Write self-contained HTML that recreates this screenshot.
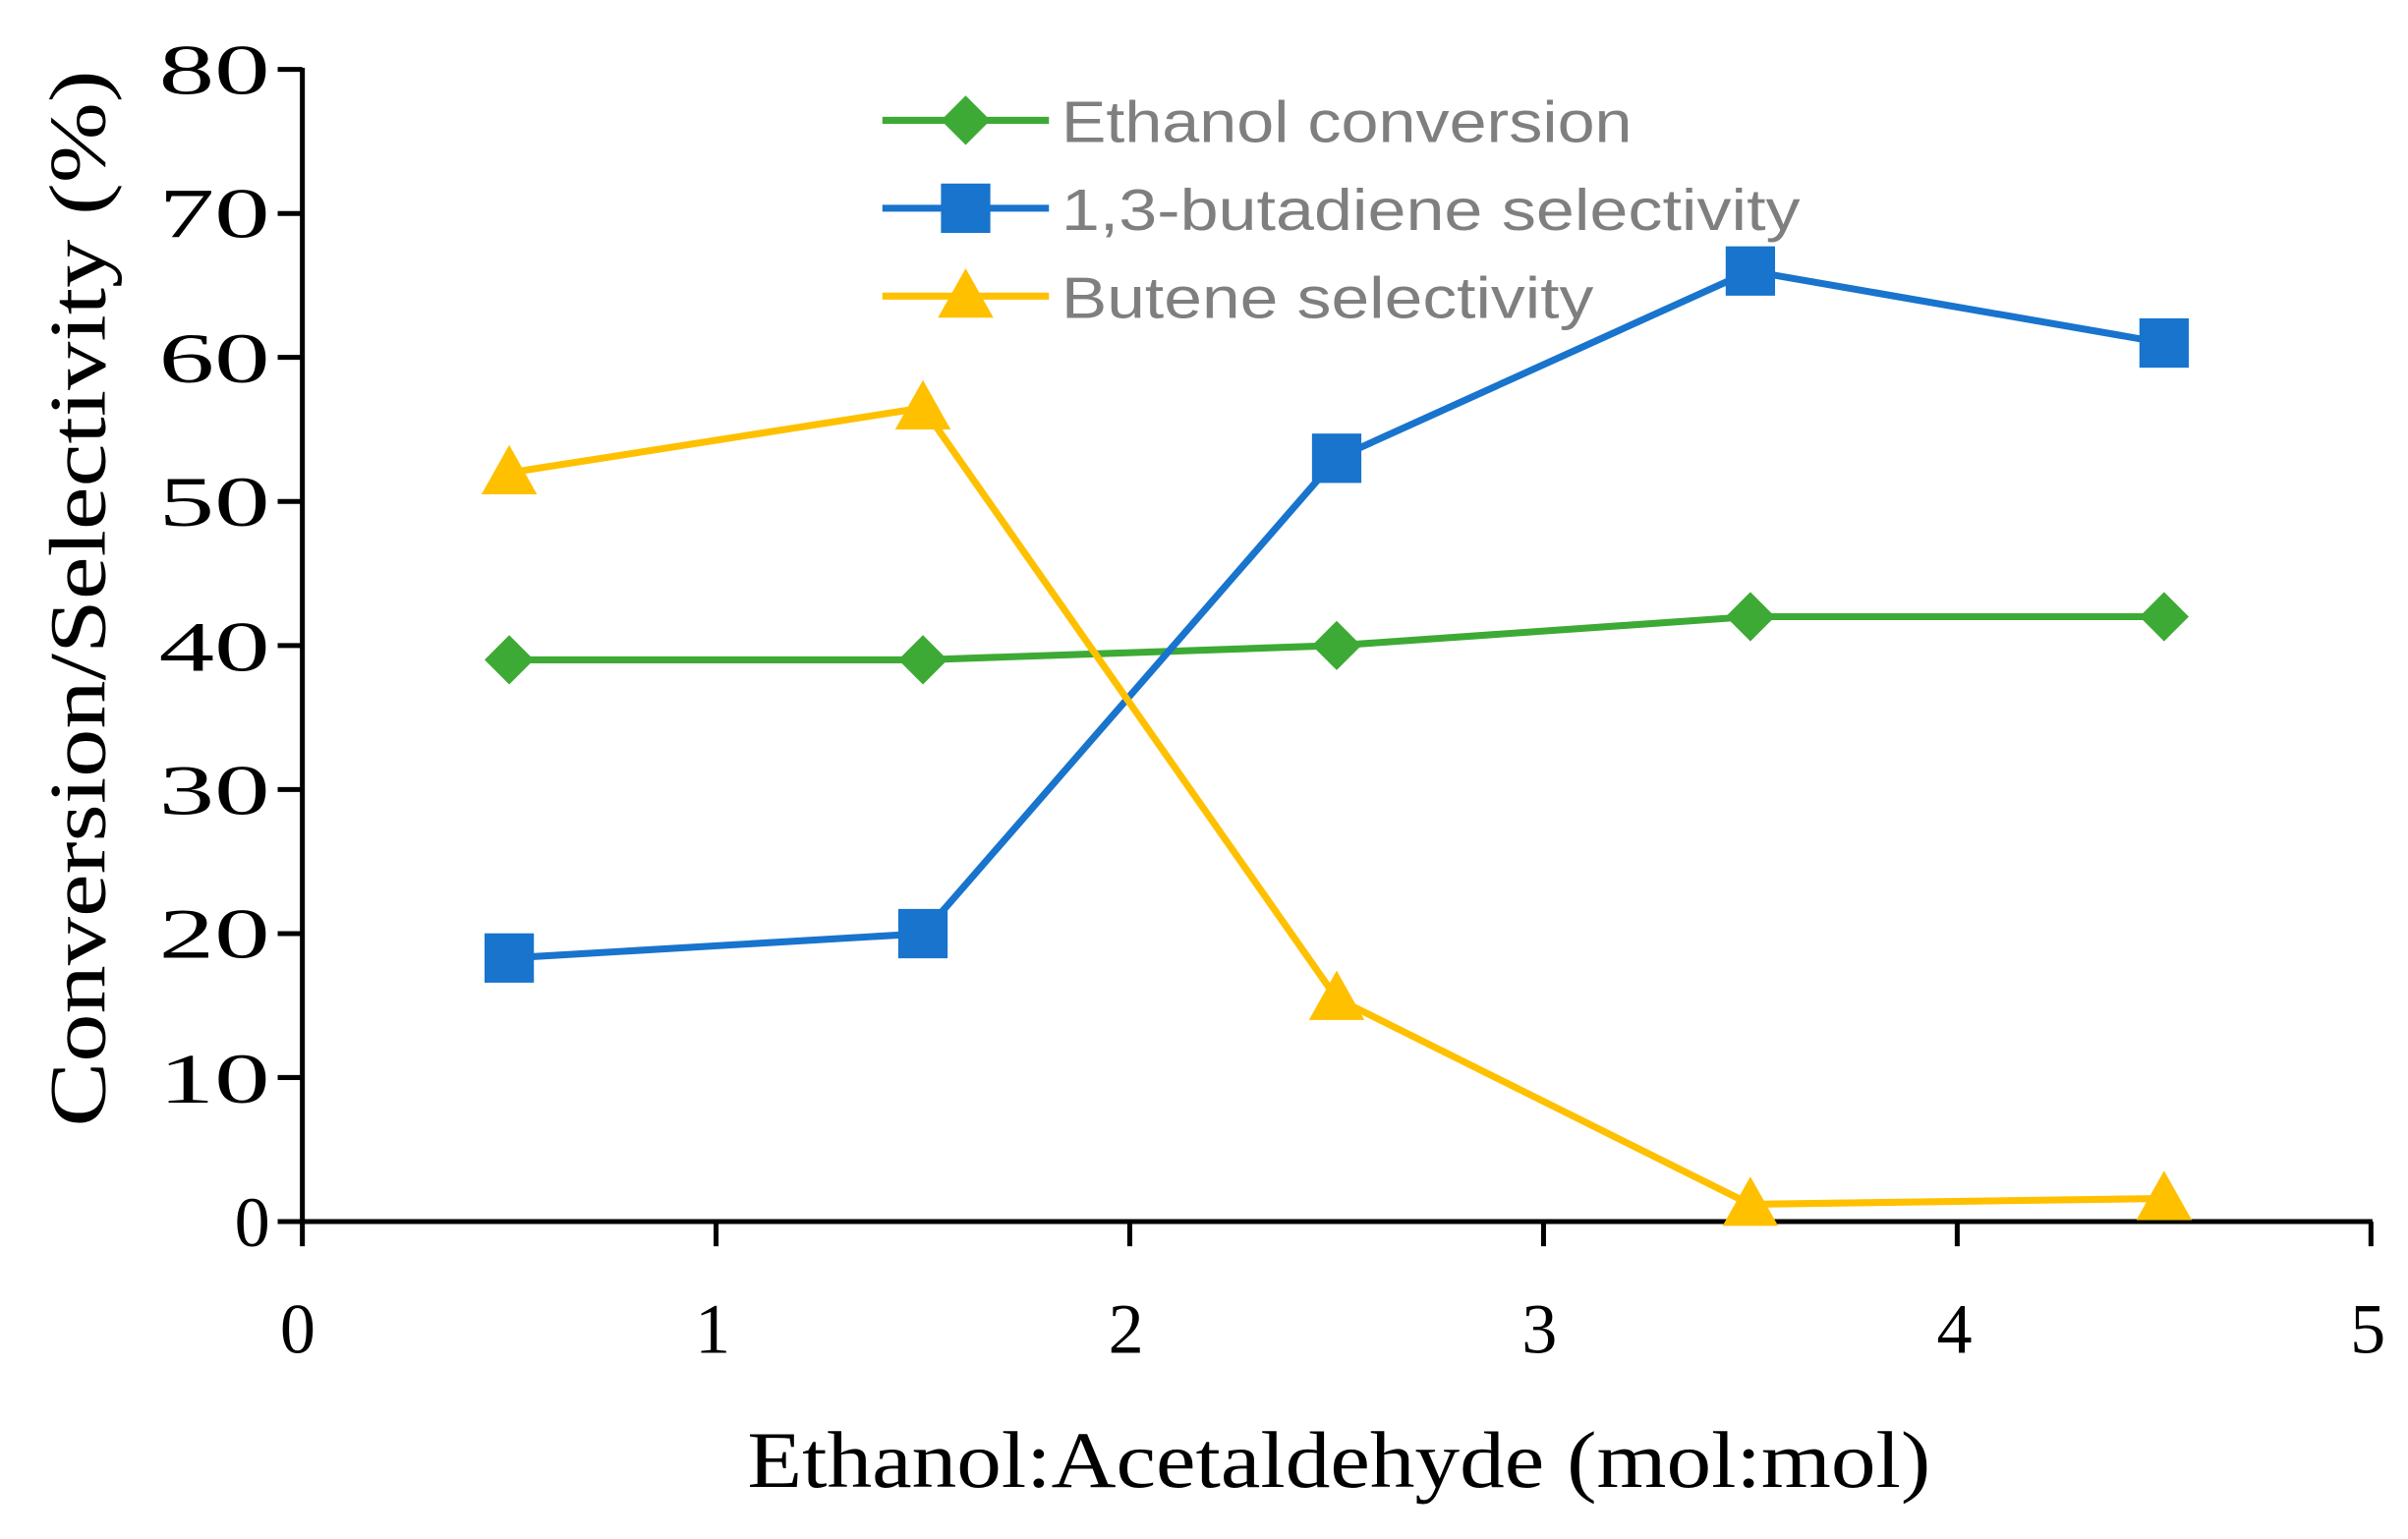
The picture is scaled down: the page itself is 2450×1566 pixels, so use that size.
<!DOCTYPE html>
<html><head><style>html,body{margin:0;padding:0;background:#fff}</style></head>
<body>
<svg width="2450" height="1561" viewBox="0 0 1561 994.6" xmlns="http://www.w3.org/2000/svg">
<rect width="1561" height="994.6" fill="#fff"/>
<g stroke="#000" stroke-width="3.2" fill="none">
<line x1="196" y1="44" x2="196" y2="793"/>
<line x1="195" y1="792" x2="1538" y2="792"/>
<line x1="180" y1="45" x2="196" y2="45"/><line x1="180" y1="138.4" x2="196" y2="138.4"/>
<line x1="180" y1="231.7" x2="196" y2="231.7"/><line x1="180" y1="325.1" x2="196" y2="325.1"/>
<line x1="180" y1="418.5" x2="196" y2="418.5"/><line x1="180" y1="511.9" x2="196" y2="511.9"/>
<line x1="180" y1="605.3" x2="196" y2="605.3"/><line x1="180" y1="698.6" x2="196" y2="698.6"/>
<line x1="180" y1="792" x2="196" y2="792"/>
<line x1="196" y1="792" x2="196" y2="808"/><line x1="464.2" y1="792" x2="464.2" y2="808"/>
<line x1="732.4" y1="792" x2="732.4" y2="808"/><line x1="1000.6" y1="792" x2="1000.6" y2="808"/>
<line x1="1268.8" y1="792" x2="1268.8" y2="808"/><line x1="1537" y1="792" x2="1537" y2="808"/>
</g>
<g font-family="Liberation Serif, serif" font-size="46" fill="#000" text-anchor="end">
<text x="175" y="61" textLength="72" lengthAdjust="spacingAndGlyphs">80</text>
<text x="175" y="154" textLength="72" lengthAdjust="spacingAndGlyphs">70</text>
<text x="175" y="248" textLength="72" lengthAdjust="spacingAndGlyphs">60</text>
<text x="175" y="341" textLength="72" lengthAdjust="spacingAndGlyphs">50</text>
<text x="175" y="435" textLength="72" lengthAdjust="spacingAndGlyphs">40</text>
<text x="175" y="528" textLength="72" lengthAdjust="spacingAndGlyphs">30</text>
<text x="175" y="621" textLength="72" lengthAdjust="spacingAndGlyphs">20</text>
<text x="175" y="715" textLength="72" lengthAdjust="spacingAndGlyphs">10</text>
<text x="175" y="808">0</text>
</g>
<g font-family="Liberation Serif, serif" font-size="46" fill="#000" text-anchor="middle">
<text x="193" y="877">0</text><text x="462" y="877">1</text><text x="730" y="877">2</text>
<text x="998" y="877">3</text><text x="1267" y="877">4</text><text x="1535" y="877">5</text>
<text x="868" y="964" font-size="52" textLength="767" lengthAdjust="spacingAndGlyphs">Ethanol:Acetaldehyde (mol:mol)</text>
<text transform="translate(68,388) rotate(-90)" font-size="52" textLength="685" lengthAdjust="spacingAndGlyphs">Conversion/Selectivity (%)</text>
</g>
<g fill="none" stroke-width="4.5">
<polyline stroke="#3daa35" points="330.1,427.8 598.3,427.8 866.5,418.5 1134.7,399.8 1402.9,399.8"/>
<polyline stroke="#1874cd" points="330.1,621.1 598.3,605.3 866.5,297.1 1134.7,175.7 1402.9,222.4"/>
<polyline stroke="#ffc000" points="330.1,306.5 598.3,264.4 866.5,647.3 1134.7,780.8 1402.9,777"/>
<line stroke="#3daa35" x1="572" y1="78" x2="680" y2="78"/>
<line stroke="#1874cd" x1="572" y1="135" x2="680" y2="135"/>
<line stroke="#ffc000" x1="572" y1="192" x2="680" y2="192"/>
</g>
<defs>
<path id="d" d="M0,-16 L16,0 L0,16 L-16,0Z" fill="#3daa35"/>
<rect id="s" x="-16" y="-16" width="32" height="32" fill="#1874cd"/>
<path id="t" d="M0,-18 L18,14 L-18,14Z" fill="#ffc000"/>
</defs>
<use href="#d" x="330.1" y="427.8"/><use href="#d" x="598.3" y="427.8"/><use href="#d" x="866.5" y="418.5"/><use href="#d" x="1134.7" y="399.8"/><use href="#d" x="1402.9" y="399.8"/>
<use href="#s" x="330.1" y="621.1"/><use href="#s" x="598.3" y="605.3"/><use href="#s" x="866.5" y="297.1"/><use href="#s" x="1134.7" y="175.7"/><use href="#s" x="1402.9" y="222.4"/>
<use href="#t" x="330.1" y="306.5"/><use href="#t" x="598.3" y="264.4"/><use href="#t" x="866.5" y="647.3"/><use href="#t" x="1134.7" y="780.8"/><use href="#t" x="1402.9" y="777"/>
<use href="#d" x="626" y="78"/><use href="#s" x="626" y="135"/><use href="#t" x="626" y="192"/>
<g font-family="Liberation Sans, sans-serif" font-size="38" fill="#7f7f7f">
<text x="688" y="92" textLength="370" lengthAdjust="spacingAndGlyphs">Ethanol conversion</text>
<text x="688" y="149" textLength="479" lengthAdjust="spacingAndGlyphs">1,3-butadiene selectivity</text>
<text x="688" y="206" textLength="345" lengthAdjust="spacingAndGlyphs">Butene selectivity</text>
</g>
</svg>
</body></html>
